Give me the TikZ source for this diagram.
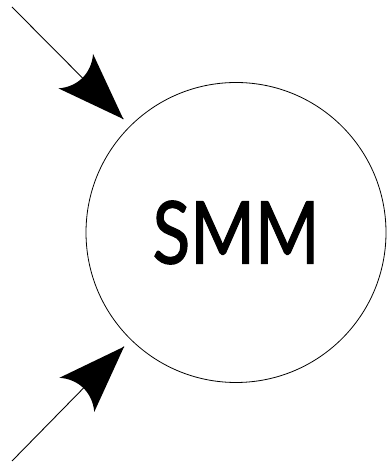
\documentclass[tikz,border=0pt]{standalone}
\usepackage{fontspec}
\newfontfamily\smmfont[FakeStretch=0.8, FakeBold=1.2]{Lato}
\usetikzlibrary{positioning}

% curved-back arrow head
\pgfarrowsdeclare{barb}{barb}
{\pgfarrowsleftextend{-68pt}\pgfarrowsrightextend{0pt}}
{
  \pgfpathmoveto{\pgfpoint{0pt}{0pt}}
  \pgfpathlineto{\pgfpoint{-67.5pt}{24.4pt}}
  \pgfpathcurveto{\pgfpoint{-61pt}{17pt}}{\pgfpoint{-58pt}{8pt}}{\pgfpoint{-58pt}{0pt}}
  \pgfpathcurveto{\pgfpoint{-58pt}{-8pt}}{\pgfpoint{-61pt}{-17pt}}{\pgfpoint{-67.5pt}{-24.4pt}}
  \pgfpathclose
  \pgfusepathqfill
}

\begin{document}
\begin{tikzpicture}[
    x=1pt, y=1pt,
    state/.style={circle, draw, line width=0.8pt, minimum size=300pt, inner sep=0pt, font=\smmfont\fontsize{87}{87}\selectfont},
    arrow/.style={-barb, line width=0.9pt, shorten >=9.5pt},
]
\useasboundingbox (0,0) rectangle (387,462);

% state
\node[state] (smm) at (236,229.5) {SMM};

% inputs
\coordinate (in_top) at (12,455);
\coordinate (in_bot) at (12,1);

% arrows
\draw[arrow] (in_top) -- (smm);
\draw[arrow] (in_bot) -- (smm);

\end{tikzpicture}
\end{document}
